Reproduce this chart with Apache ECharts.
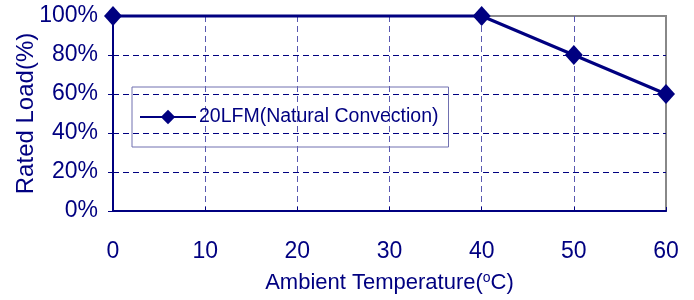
<!DOCTYPE html>
<html>
<head>
<meta charset="utf-8">
<script src="https://cdn.jsdelivr.net/npm/echarts@6/dist/echarts.min.js"></script>
<style>
  html, body { margin: 0; padding: 0; background: #fff; }
  #chart { width: 694px; height: 300px; }
</style>
</head>
<body>
<div id="chart"></div>
<script>
// 温度 (°C) 与额定负载 (%)
const temps = [0, 40, 50, 60];
const loads = [100, 100, 80, 60];
const seriesName = '20LFM(Natural Convection)';

const navy = '#000080';
const font = 'Liberation Sans, Arial, sans-serif';

const chart = echarts.init(document.getElementById('chart'));

const option = {
  animation: false,
  textStyle: { fontFamily: font },
  grid: {
    left: 113,
    right: 28,
    top: 16,
    bottom: 89,
    containLabel: false,
    outerBoundsMode: 'none',
    show: true,
    borderColor: '#888888',
    borderWidth: 2
  },
  legend: {
    data: [seriesName],
    left: 132,
    top: 87,
    padding: [20, 10, 20, 7],
    borderColor: '#7070b0',
    borderWidth: 1,
    itemWidth: 56,
    itemHeight: 18,
    itemGap: 0,
    textStyle: { color: navy, fontSize: 19.5, fontFamily: font, padding: [0, 0, 0, -2] },
    selectedMode: false
  },
  xAxis: {
    type: 'value',
    min: 0,
    max: 60,
    interval: 10,
    name: '{t|Ambient Temperature(}{s|o}{t|C)}',
    nameLocation: 'middle',
    nameGap: 60,
    nameTextStyle: {
      rich: {
        t: { color: navy, fontSize: 22, fontFamily: font },
        s: { color: navy, fontSize: 14, fontFamily: font, verticalAlign: 'top', padding: [0, 0, 10, 0] }
      }
    },
    axisLine: { lineStyle: { color: navy, width: 2 } },
    axisTick: { show: true, inside: true, length: 4, lineStyle: { color: navy } },
    axisLabel: { color: navy, fontSize: 23, margin: 29 },
    splitLine: {
      show: true,
      showMinLine: false,
      showMaxLine: false,
      lineStyle: { color: '#5858b0', type: [6, 4], width: 1 }
    }
  },
  yAxis: {
    type: 'value',
    min: 0,
    max: 100,
    interval: 20,
    name: 'Rated Load(%)',
    nameLocation: 'middle',
    nameGap: 75,
    nameMoveOverlap: false,
    nameTextStyle: { color: navy, fontSize: 24, fontFamily: font },
    axisLine: { show: true, lineStyle: { color: navy, width: 2 } },
    axisTick: { show: true, length: 5, lineStyle: { color: navy } },
    axisLabel: { color: navy, fontSize: 23, margin: 15, formatter: '{value}%' },
    splitLine: {
      show: true,
      showMinLine: false,
      showMaxLine: false,
      lineStyle: { color: navy, type: [6, 4], width: 1 }
    }
  },
  series: [
    {
      name: seriesName,
      type: 'line',
      data: temps.map((t, i) => [t, loads[i]]),
      symbol: 'diamond',
      symbolSize: [18, 20],
      lineStyle: { color: navy, width: 3 },
      itemStyle: { color: navy },
      clip: false,
      z: 5
    }
  ]
};

chart.setOption(option);
</script>
</body>
</html>
